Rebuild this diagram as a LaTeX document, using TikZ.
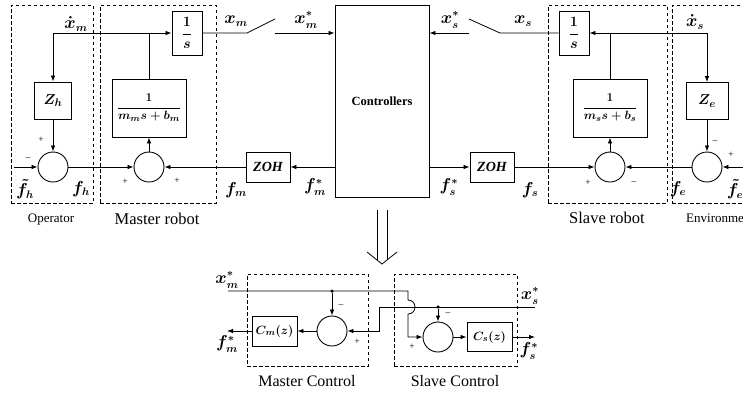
\documentclass[tikz,border=0pt]{standalone}
\usepackage{fontspec}
\setmainfont{Liberation Serif}
\usetikzlibrary{arrows.meta}
\tikzset{
  blk/.style={draw, line width=0.9pt, inner sep=0pt, fill=white, font=\fontsize{15.5}{17}\selectfont\boldmath},
  sumc/.style={draw, circle, line width=0.9pt, minimum size=30pt, inner sep=0pt},
  grp/.style={draw, line width=0.8pt, dash pattern=on 3.5pt off 2.5pt, inner sep=0pt},
  arr/.style={-{Latex[length=6pt,width=4.5pt]}, line width=0.8pt},
  ln/.style={line width=0.8pt},
  lbl/.style={inner sep=0pt, font=\fontsize{16}{18}\selectfont\boldmath},
  sgn/.style={inner sep=0pt, font=\fontsize{9.5}{10}\selectfont},
  biglbl/.style={inner sep=0pt, anchor=base, font=\fontsize{16.5}{18}\selectfont},
  smlbl/.style={inner sep=0pt, anchor=base, font=\fontsize{13}{15}\selectfont},
  jdot/.style={circle, fill, inner sep=0pt, minimum size=3.5pt}
}
\begin{document}
\begin{tikzpicture}[x=1pt,y=-1pt]
\useasboundingbox (0,0) rectangle (743,394);
\clip (0,0) rectangle (743,394);

% ---------- dashed groups (top) ----------
\node[grp, minimum width=82pt, minimum height=198pt] (gOp) at (52,104) {};
\node[grp, minimum width=116pt, minimum height=198pt] (gMr) at (158,104) {};
\node[grp, minimum width=119pt, minimum height=198pt] (gSr) at (607.5,104) {};
\node[grp, minimum width=88pt, minimum height=198pt] (gEn) at (716,104) {};

\node[smlbl] (tOp) at (51,222) {Operator};
\node[biglbl] (tMr) at (157,224) {Master robot};
\node[biglbl] (tSr) at (607,223) {Slave robot};
\node[smlbl, anchor=base west] (tEn) at (686,222) {Environment};

% ---------- blocks (top) ----------
\node[blk, minimum width=37pt, minimum height=37pt] (Zh) at (53,100.5) {$Z_h$};
\node[blk, minimum width=30pt, minimum height=44pt] (Im) at (187,33) {$\displaystyle\frac{1}{s}$};
\node[blk, minimum width=74pt, minimum height=58pt, font=\fontsize{13}{15}\selectfont\boldmath] (Bm) at (149,108) {$\displaystyle\frac{1}{m_m s+b_m}$};
\node[sumc] (S1) at (53,167) {};
\node[sumc] (S2) at (149,167) {};
\node[blk, minimum width=44pt, minimum height=30pt, font=\fontsize{14}{16}\selectfont\bfseries\itshape] (ZOHm) at (268,167) {ZOH};
\node[blk, minimum width=94pt, minimum height=192pt, font=\fontsize{12.5}{14}\selectfont\bfseries] (Ctrl) at (382,101) {Controllers};
\node[blk, minimum width=44pt, minimum height=30pt, font=\fontsize{14}{16}\selectfont\bfseries\itshape] (ZOHs) at (492,167) {ZOH};
\node[blk, minimum width=30pt, minimum height=44pt] (Is) at (574,33) {$\displaystyle\frac{1}{s}$};
\node[blk, minimum width=74pt, minimum height=58pt, font=\fontsize{13}{15}\selectfont\boldmath] (Bs) at (610,108) {$\displaystyle\frac{1}{m_s s+b_s}$};
\node[sumc] (S3) at (610,167) {};
\node[blk, minimum width=42pt, minimum height=37pt] (Ze) at (707,101) {$Z_e$};
\node[sumc] (S4) at (707,167) {};

% ---------- coordinates (top) ----------
\coordinate (xmd) at (53,33);
\coordinate (jm) at (149,33);
\coordinate (fhin) at (14,167);
\coordinate (sw1a) at (247,33);
\coordinate (sw1t) at (275,19);
\coordinate (sw1b) at (275,33);
\coordinate (sw2a) at (469,33);
\coordinate (sw2t) at (469,19);
\coordinate (sw2b) at (500,33);
\coordinate (xsd) at (707,33);
\coordinate (js) at (610,33);
\coordinate (fein) at (745,167);

% ---------- connectors (top) ----------
\draw[arr] (xmd) -- (Im.west);
\draw[arr] (xmd) -- (Zh.north);
\draw[ln] (Bm.north) -- (jm);
\draw[arr] (Zh.south) -- (S1.north);
\draw[arr] (fhin) -- (S1.west);
\draw[arr] (S1.east) -- (S2.west);
\draw[arr] (S2.north) -- (Bm.south);
\draw[arr] (ZOHm.west) -- (S2.east);
\draw[arr] (Ctrl.west |- ZOHm.east) -- (ZOHm.east);
\draw[ln] (Im.east) -- (sw1a) -- (sw1t);
\draw[arr] (sw1b) -- (Ctrl.west |- sw1b);
\draw[arr] (sw2a) -- (Ctrl.east |- sw2a);
\draw[ln] (sw2t) -- (sw2b) -- (Is.west);
\draw[arr] (xsd) -- (Is.east);
\draw[arr] (xsd) -- (Ze.north);
\draw[ln] (Bs.north) -- (js);
\draw[arr] (Ze.south) -- (S4.north);
\draw[arr] (fein) -- (S4.east);
\draw[arr] (S4.west) -- (S3.east);
\draw[arr] (S3.north) -- (Bs.south);
\draw[arr] (Ctrl.east |- ZOHs.west) -- (ZOHs.west);
\draw[arr] (ZOHs.east) -- (S3.west);

% ---------- labels (top) ----------
\node[lbl] (lxmd) at (76,24) {$\dot{x}_m$};
\node[lbl] (lxm) at (236,21) {$x_m$};
\node[lbl] (lxms) at (306,20) {$x_m^*$};
\node[lbl] (lxss) at (450,20) {$x_s^*$};
\node[lbl] (lxs) at (523,21) {$x_s$};
\node[lbl] (lxsd) at (695,22) {$\dot{x}_s$};
\node[lbl] (lfht) at (25,189) {$\tilde{f}_h$};
\node[lbl] (lfh) at (81,189) {$f_h$};
\node[lbl] (lfm) at (236,190) {$f_m$};
\node[lbl] (lfms) at (315,187) {$f_m^*$};
\node[lbl] (lfss) at (449,187) {$f_s^*$};
\node[lbl] (lfs) at (530,190) {$f_s$};
\node[lbl] (lfe) at (678,189) {$f_e$};
\node[lbl] (lfet) at (735,189) {$\tilde{f}_e$};

\node[sgn] (p1) at (41,140) {+};
\node[sgn] (m1) at (28,159) {--};
\node[sgn] (p2) at (125,182) {+};
\node[sgn] (p3) at (177,181) {+};
\node[sgn] (p4) at (588,183) {+};
\node[sgn] (m4) at (634,183) {--};
\node[sgn] (m5) at (715,142) {--};
\node[sgn] (p5) at (731,155) {+};

% ---------- double arrow ----------
\coordinate (dl1) at (377,210);
\coordinate (dl2) at (377,260);
\coordinate (dr1) at (387,210);
\coordinate (dr2) at (387,260);
\coordinate (chl) at (367,252);
\coordinate (cht) at (382,264);
\coordinate (chr) at (397,252);
\draw[ln] (dl1) -- (dl2);
\draw[ln] (dr1) -- (dr2);
\draw[ln] (chl) -- (cht) -- (chr);

% ---------- bottom section ----------
\node[grp, minimum width=121pt, minimum height=92pt] (gMc) at (307.5,320) {};
\node[grp, minimum width=123pt, minimum height=92pt] (gSc) at (455.5,320) {};
\node[biglbl, font=\fontsize{16}{18}\selectfont] (tMc) at (307,386) {Master Control};
\node[biglbl, font=\fontsize{16}{18}\selectfont] (tSc) at (455,386) {Slave Control};

\node[blk, minimum width=45pt, minimum height=30pt, font=\fontsize{12.5}{15}\selectfont\boldmath] (Cm) at (274.5,331) {$C_m(z)$};
\node[sumc] (Sm) at (332,331) {};
\node[sumc] (Ss) at (438,337) {};
\node[blk, minimum width=45pt, minimum height=29pt, font=\fontsize{12.5}{15}\selectfont\boldmath] (Cs) at (489.5,337) {$C_s(z)$};
\node[jdot] (dm) at (332,291) {};
\node[jdot] (ds) at (438,307) {};

\coordinate (xmsin) at (228,291);
\coordinate (hopa) at (408,291);
\coordinate (hopb) at (408,300);
\coordinate (hopc) at (408,314);
\coordinate (sin) at (408,337);
\coordinate (xssin) at (535,307);
\coordinate (turn) at (379,307);
\coordinate (fmsout) at (227,331);
\coordinate (fssout) at (535,337);

\draw[arr] (xmsin) -- (hopa) -- (hopb) .. controls (417.3,300) and (417.3,314) .. (hopc) -- (sin) -- (Ss.west);
\draw[arr] (dm) -- (Sm.north);
\draw[arr] (xssin) -- (turn) -- (turn |- Sm.east) -- (Sm.east);
\draw[arr] (ds) -- (Ss.north);
\draw[arr] (Sm.west) -- (Cm.east);
\draw[arr] (Cm.west) -- (fmsout);
\draw[arr] (Ss.east) -- (Cs.west);
\draw[arr] (Cs.east) -- (fssout);

\node[lbl] (lbxm) at (227,280) {$x_m^*$};
\node[lbl] (lbfm) at (227,344) {$f_m^*$};
\node[lbl] (lbxs) at (530,296) {$x_s^*$};
\node[lbl] (lbfs) at (529,351) {$f_s^*$};

\node[sgn] (bm1) at (341,306) {--};
\node[sgn] (bp1) at (357,342) {+};
\node[sgn] (bm2) at (448,314) {--};
\node[sgn] (bp2) at (412,347) {+};
\end{tikzpicture}
\end{document}
